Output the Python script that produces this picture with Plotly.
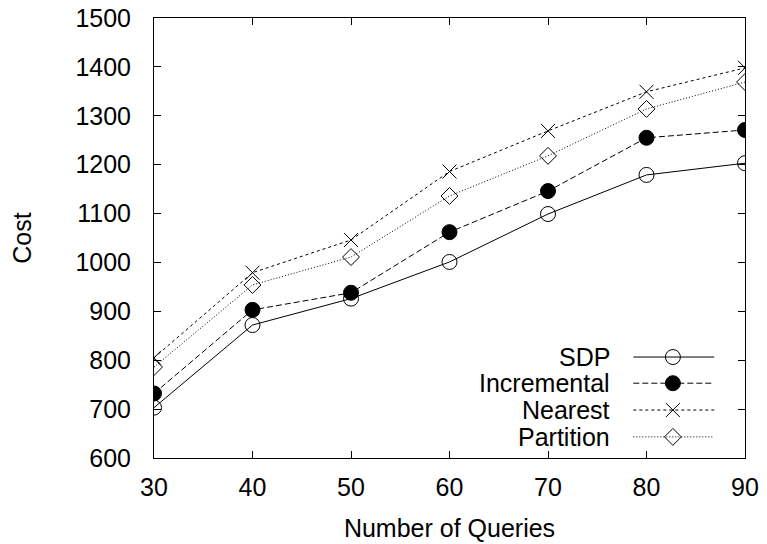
import plotly.graph_objects as go

queries = [30, 40, 50, 60, 70, 80, 90]
sdp = [703, 872, 926, 1001, 1099, 1179, 1203]
incremental = [732, 903, 938, 1062, 1146, 1255, 1271]
nearest = [805, 979, 1046, 1186, 1269, 1349, 1398]
partition = [786, 954, 1011, 1136, 1218, 1314, 1369]
y_ticks = list(range(600, 1501, 100))

series = [
    ("SDP", sdp, "solid", dict(symbol="circle-open", size=15, color="black", line=dict(width=1, color="black"))),
    ("Incremental", incremental, "6px,3px", dict(symbol="circle", size=15, color="black", line=dict(width=1, color="black"))),
    ("Nearest", nearest, "3px,3px", dict(symbol="x-thin-open", size=14, color="black", line=dict(width=1, color="black"))),
    ("Partition", partition, "1px,2px", dict(symbol="diamond-open", size=13, color="black", line=dict(width=1, color="black"))),
]

FONT = "Liberation Sans, Arial, sans-serif"
FS = 25
fig = go.Figure()
for name, vals, dash, marker in series:
    fig.add_trace(go.Scatter(x=queries, y=vals, mode="lines+markers", name=name,
                             line=dict(color="black", width=1, dash=dash),
                             marker=marker, showlegend=False))

# gnuplot-style key (text left, sample right)
leg_y = [0.2295, 0.170, 0.109, 0.048]
for (name, vals, dash, marker), ly in zip(series, leg_y):
    fig.add_trace(go.Scatter(x=[0.811, 0.948], y=[ly, ly], mode="lines", xaxis="x2", yaxis="y2",
                             line=dict(color="black", width=1, dash=dash), showlegend=False,
                             hoverinfo="skip"))
    fig.add_trace(go.Scatter(x=[0.878], y=[ly], mode="markers", xaxis="x2", yaxis="y2",
                             marker=marker, showlegend=False, hoverinfo="skip"))
    fig.add_annotation(x=0.775, y=ly, xref="x2", yref="y2", text=name, showarrow=False,
                       xanchor="right", yanchor="middle", font=dict(size=FS, color="black", family=FONT))

axis_common = dict(showline=True, linecolor="black", linewidth=1, mirror="allticks",
                   ticks="inside", ticklen=7, tickcolor="black", showgrid=False, zeroline=False,
                   tickfont=dict(size=FS, color="black", family=FONT), automargin=False)
fig.update_layout(
    width=767, height=544,
    margin=dict(l=154, r=22, t=18, b=86),
    plot_bgcolor="white", paper_bgcolor="white",
    font=dict(family=FONT, color="black", size=FS),
    xaxis=dict(range=[30, 90], tickvals=queries, ticklabelstandoff=7,
               title=dict(text="Number of Queries", standoff=19, font=dict(size=FS)), **axis_common),
    yaxis=dict(range=[600, 1500], tickvals=y_ticks, ticklabelstandoff=17,
               title=dict(text="Cost", standoff=36, font=dict(size=FS)), **axis_common),
    xaxis2=dict(range=[0, 1], overlaying="x", visible=False, fixedrange=True),
    yaxis2=dict(range=[0, 1], overlaying="y", visible=False, fixedrange=True),
)
fig.write_html("out.html", config={"displayModeBar": False},
               post_script="document.body.style.margin='0';document.body.style.overflow='hidden';")
